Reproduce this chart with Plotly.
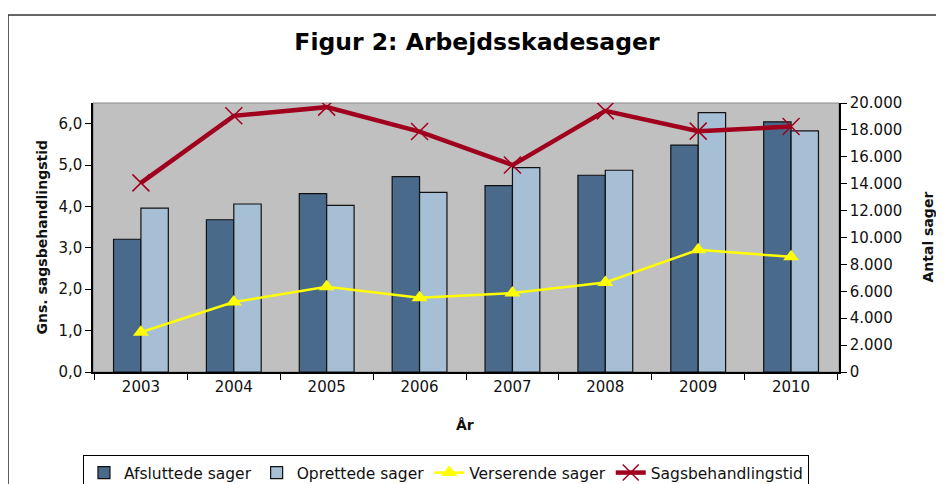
import plotly.graph_objects as go

years = ["2003", "2004", "2005", "2006", "2007", "2008", "2009", "2010"]
afsluttede = [9870, 11320, 13260, 14530, 13860, 14630, 16870, 18600]
oprettede = [12190, 12490, 12390, 13360, 15200, 15000, 19280, 17930]
verserende = [2960, 5200, 6340, 5520, 5870, 6660, 9080, 8560]
behandlingstid = [4.57, 6.19, 6.40, 5.81, 5.00, 6.31, 5.82, 5.93]

font = "DejaVu Sans"

fig = go.Figure()
fig.add_trace(go.Bar(
    x=years, y=afsluttede, name="Afsluttede sager",
    marker=dict(color="#4A6A8C", line=dict(color="#111111", width=1.2)),
))
fig.add_trace(go.Bar(
    x=years, y=oprettede, name="Oprettede sager",
    marker=dict(color="#A6BFD4", line=dict(color="#111111", width=1.2)),
))
fig.add_trace(go.Scatter(
    x=years, y=verserende, name="Verserende sager", mode="lines+markers",
    line=dict(color="#FFFF00", width=2.5),
    marker=dict(symbol="triangle-up", size=14, color="#FFFF00"),
))
fig.add_trace(go.Scatter(
    x=years, y=behandlingstid, name="Sagsbehandlingstid", mode="lines+markers",
    yaxis="y2",
    line=dict(color="#A0001E", width=4.5),
    marker=dict(symbol="x-thin", size=17, color="#A0001E",
                line=dict(color="#A0001E", width=1.5)),
))

# the page body adds 8px around the figure, so the figure is 8px smaller
fig.update_layout(
    width=936, height=476,
    margin=dict(l=85, r=105, t=95, b=112),
    paper_bgcolor="white", plot_bgcolor="#C0C0C0",
    separators=",.",
    font=dict(family=font, size=15, color="#111111"),
    barmode="group", bargap=0.41, bargroupgap=0,
    title=dict(text="<b>Figur 2: Arbejdsskadesager</b>", x=0.501, xanchor="center",
               y=0.9286, yanchor="middle", font=dict(family=font, size=23.5, color="black")),
    xaxis=dict(showline=True, linecolor="black", linewidth=1.5, ticks="outside",
               tickson="boundaries", ticklen=6, tickcolor="black", showgrid=False),
    yaxis=dict(side="right", range=[0, 20000], dtick=2000, tickformat=",d",
               showline=True, linecolor="black", linewidth=1.5, ticks="outside",
               ticklen=6, tickcolor="black", showgrid=False, zeroline=False),
    yaxis2=dict(side="left", overlaying="y", range=[0, 6.5], dtick=1, tickformat=".1f",
                showline=True, linecolor="black", linewidth=1.5, ticks="outside",
                ticklen=6, tickcolor="black", showgrid=False, zeroline=False),
    legend=dict(orientation="h", xref="container", yref="container",
                x=0.0801, xanchor="left", y=0.0609, yanchor="top",
                bordercolor="black", borderwidth=1, bgcolor="white",
                font=dict(family=font, size=15.5),
                itemwidth=30, tracegroupgap=0, traceorder="normal"),
    shapes=[
        dict(type="rect", xref="paper", yref="paper", x0=0, x1=1, y0=0, y1=1,
             line=dict(color="#888888", width=1), layer="below"),
        dict(type="rect", xref="paper", yref="paper", x0=-0.1139, x1=1.16,
             y0=-0.46, y1=1.327, line=dict(color="#333333", width=1.5)),
    ],
    annotations=[
        dict(text="<b>År</b>", xref="paper", yref="paper", x=0.4987, y=-0.197,
             xanchor="center", yanchor="middle", showarrow=False, font=dict(size=14)),
        dict(text="<b>Gns. sagsbehandlingstid</b>", xref="paper", yref="paper",
             x=-0.0684, y=0.5, xanchor="center", yanchor="middle", textangle=-90,
             showarrow=False, font=dict(size=14)),
        dict(text="<b>Antal sager</b>", xref="paper", yref="paper",
             x=1.118, y=0.5, xanchor="center", yanchor="middle", textangle=-90,
             showarrow=False, font=dict(size=14)),
    ],
)

fig.write_html("out.html")
